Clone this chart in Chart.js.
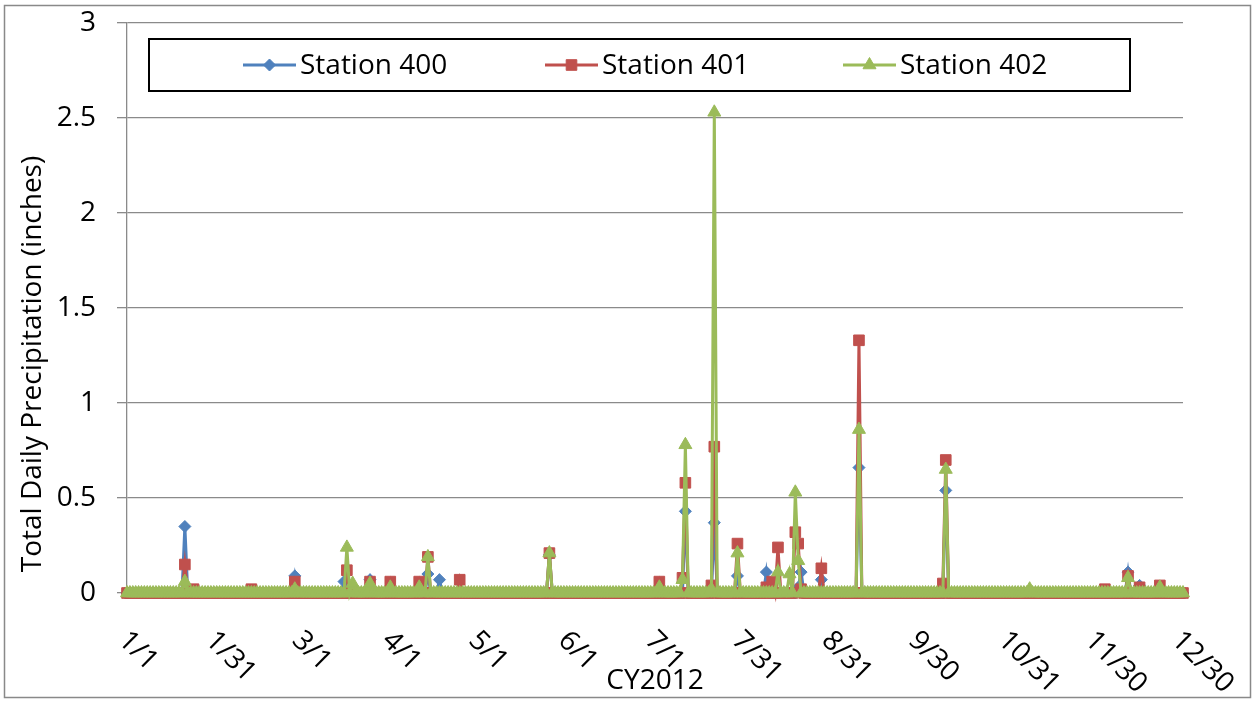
<!DOCTYPE html>
<html>
<head>
<meta charset="utf-8">
<script src="https://cdn.jsdelivr.net/npm/chart.js@4/dist/chart.umd.min.js"></script>
<style>
  html, body { margin: 0; padding: 0; background: #fff; }
  #wrap { width: 1254px; height: 703px; }
</style>
</head>
<body>
<div id="wrap"><canvas id="c" width="1254" height="703"></canvas></div>
<script>
// Daily precipitation, calendar year 2012 (leap year: 366 days, day 0 = Jan 1)
const dayCount = 366;
const seriesNames = ['Station 400', 'Station 401', 'Station 402'];
const seriesColors = ['#4F81BD', '#C0504D', '#9BBB59'];
const seriesMarkers = ['rectRot', 'rect', 'triangle'];

// x-axis tick positions (day of year) and their labels
const tickDays = [0, 30, 60, 91, 121, 152, 182, 212, 243, 273, 304, 334, 364];
const tickLabels = ['1/1', '1/31', '3/1', '4/1', '5/1', '6/1', '7/1', '7/31', '8/31', '9/30', '10/31', '11/30', '12/30'];
const yTitle = 'Total Daily Precipitation (inches)';
const xTitle = 'CY2012';

// Days with measurable rain and the daily totals (inches); every other day is 0
const wetDays400 = [20, 58, 75, 84, 104, 108, 146, 193, 203, 211, 221, 232, 233, 240, 253, 283, 346, 350];
const wetVals400 = [0.35, 0.09, 0.06, 0.07, 0.10, 0.07, 0.20, 0.43, 0.37, 0.09, 0.11, 0.03, 0.11, 0.07, 0.66, 0.54, 0.11, 0.04];

const wetDays401 = [20, 23, 43, 58, 76, 84, 91, 101, 104, 115, 146, 184, 192, 193, 202, 203, 211, 221, 223, 225,
                    231, 232, 233, 240, 253, 282, 283, 338, 346, 350, 357];
const wetVals401 = [0.15, 0.02, 0.02, 0.06, 0.12, 0.06, 0.06, 0.06, 0.19, 0.07, 0.21, 0.06, 0.08, 0.58, 0.04, 0.77, 0.26, 0.03, 0.06, 0.24,
                    0.32, 0.26, 0.02, 0.13, 1.33, 0.05, 0.70, 0.02, 0.09, 0.03, 0.04];

const wetDays402 = [20, 58, 76, 78, 84, 91, 101, 104, 146, 184, 192, 193, 202, 203, 211, 225, 229, 231, 232, 253,
                    283, 312, 346, 357];
const wetVals402 = [0.06, 0.02, 0.24, 0.05, 0.05, 0.03, 0.03, 0.19, 0.21, 0.03, 0.07, 0.78, 0.02, 2.53, 0.21, 0.11, 0.10, 0.53, 0.17, 0.86,
                    0.65, 0.02, 0.08, 0.03];

const FONT = "'Open Sans', 'Noto Sans', sans-serif";
const FONT_SIZE = 28;
const GRID = '#8a8a8a';

function dailySeries(days, vals) {
  const totals = new Array(dayCount).fill(0);
  days.forEach((d, i) => { totals[d] = vals[i]; });
  return totals.map((v, i) => ({ x: i, y: v }));
}

const seriesData = [
  dailySeries(wetDays400, wetVals400),
  dailySeries(wetDays401, wetVals401),
  dailySeries(wetDays402, wetVals402)
];
const markerRadius = [6, 7.5, 7.5];

const datasets = seriesNames.map((name, i) => ({
  label: name,
  data: seriesData[i],
  borderColor: seriesColors[i],
  backgroundColor: seriesColors[i],
  pointBackgroundColor: seriesColors[i],
  pointBorderColor: seriesColors[i],
  pointBorderWidth: 1,
  pointStyle: seriesMarkers[i],
  pointRadius: markerRadius[i],
  borderWidth: 3,
  tension: 0,
  clip: false,
  order: 2 - i   // later stations drawn on top
}));

function drawMarker(ctx, style, x, y, r) {
  ctx.beginPath();
  if (style === 'rectRot') {
    ctx.moveTo(x - r, y); ctx.lineTo(x, y - r); ctx.lineTo(x + r, y); ctx.lineTo(x, y + r);
  } else if (style === 'rect') {
    const s = r * Math.SQRT1_2;
    ctx.rect(x - s, y - s, 2 * s, 2 * s);
  } else {
    ctx.moveTo(x, y - r); ctx.lineTo(x + r * 0.866, y + r / 2); ctx.lineTo(x - r * 0.866, y + r / 2);
  }
  ctx.closePath();
  ctx.fill();
  ctx.stroke();
}

// White page, outer frame, rotated date labels, y title and boxed legend
const decorations = {
  id: 'decorations',
  beforeDraw(chart) {
    const ctx = chart.ctx;
    ctx.save();
    ctx.fillStyle = '#fff';
    ctx.fillRect(0, 0, chart.width, chart.height);
    ctx.restore();
  },
  afterDraw(chart) {
    const ctx = chart.ctx;
    const xs = chart.scales.x;
    ctx.save();

    // outer frame
    ctx.strokeStyle = '#898989';
    ctx.lineWidth = 1.5;
    ctx.strokeRect(4.5, 5.5, 1246, 692);

    // date labels, rotated 45 degrees clockwise, starting at each tick
    ctx.fillStyle = '#000';
    ctx.font = FONT_SIZE + 'px ' + FONT;
    ctx.textAlign = 'left';
    ctx.textBaseline = 'middle';
    tickDays.forEach((d, i) => {
      const px = xs.getPixelForValue(d);
      ctx.save();
      ctx.translate(px - 4, 636);
      ctx.rotate(Math.PI / 4);
      ctx.fillText(tickLabels[i], 0, 0);
      ctx.restore();
    });

    // y-axis title
    ctx.save();
    ctx.translate(33, 364);
    ctx.rotate(-Math.PI / 2);
    ctx.textAlign = 'center';
    ctx.fillText(yTitle, 0, 0);
    ctx.restore();

    // legend box
    ctx.fillStyle = '#fff';
    ctx.fillRect(149, 39, 981, 52);
    ctx.strokeStyle = '#000';
    ctx.lineWidth = 2;
    ctx.strokeRect(149, 39, 981, 52);
    const itemX = [243, 545, 843];
    const cy = 65;
    chart.data.datasets.forEach((ds, i) => {
      const x0 = itemX[i];
      ctx.strokeStyle = ds.borderColor;
      ctx.lineWidth = 3;
      ctx.beginPath();
      ctx.moveTo(x0, cy);
      ctx.lineTo(x0 + 53, cy);
      ctx.stroke();
      ctx.fillStyle = ds.borderColor;
      ctx.lineWidth = 1;
      drawMarker(ctx, ds.pointStyle, x0 + 26.5, cy, ds.pointRadius);
      ctx.fillStyle = '#000';
      ctx.textAlign = 'left';
      ctx.textBaseline = 'middle';
      ctx.fillText(ds.label, x0 + 57, cy + 1);
    });
    ctx.restore();
  }
};

new Chart(document.getElementById('c'), {
  type: 'line',
  data: { datasets },
  options: {
    responsive: false,
    animation: false,
    events: [],
    layout: { padding: { left: 0, right: 71, top: 23, bottom: 0 } },
    plugins: { legend: { display: false }, tooltip: { enabled: false } },
    scales: {
      x: {
        type: 'linear',
        min: 0,
        max: 365,
        afterBuildTicks: s => { s.ticks = tickDays.map(v => ({ value: v })); },
        afterFit: s => { s.height = 110; },
        grid: { display: true, drawOnChartArea: false, drawTicks: true, tickLength: 6, color: GRID, lineWidth: 1.3 },
        border: { display: true, color: GRID, width: 1.3 },
        ticks: { display: false },
        title: {
          display: true, text: xTitle, color: '#000',
          font: { family: FONT, size: FONT_SIZE, lineHeight: 1.2 },
          padding: { top: 0, bottom: 5 }
        }
      },
      y: {
        min: 0,
        max: 3,
        afterFit: s => { s.width = 127; s.paddingTop = 0; s.paddingBottom = 0; },
        ticks: {
          stepSize: 0.5, padding: 21, color: '#000',
          font: { family: FONT, size: FONT_SIZE },
          callback: v => String(Number(v))
        },
        grid: { color: GRID, lineWidth: 1.3, tickLength: 10 },
        border: { display: true, color: GRID, width: 1.3 }
      }
    }
  },
  plugins: [decorations]
});
</script>
</body>
</html>
